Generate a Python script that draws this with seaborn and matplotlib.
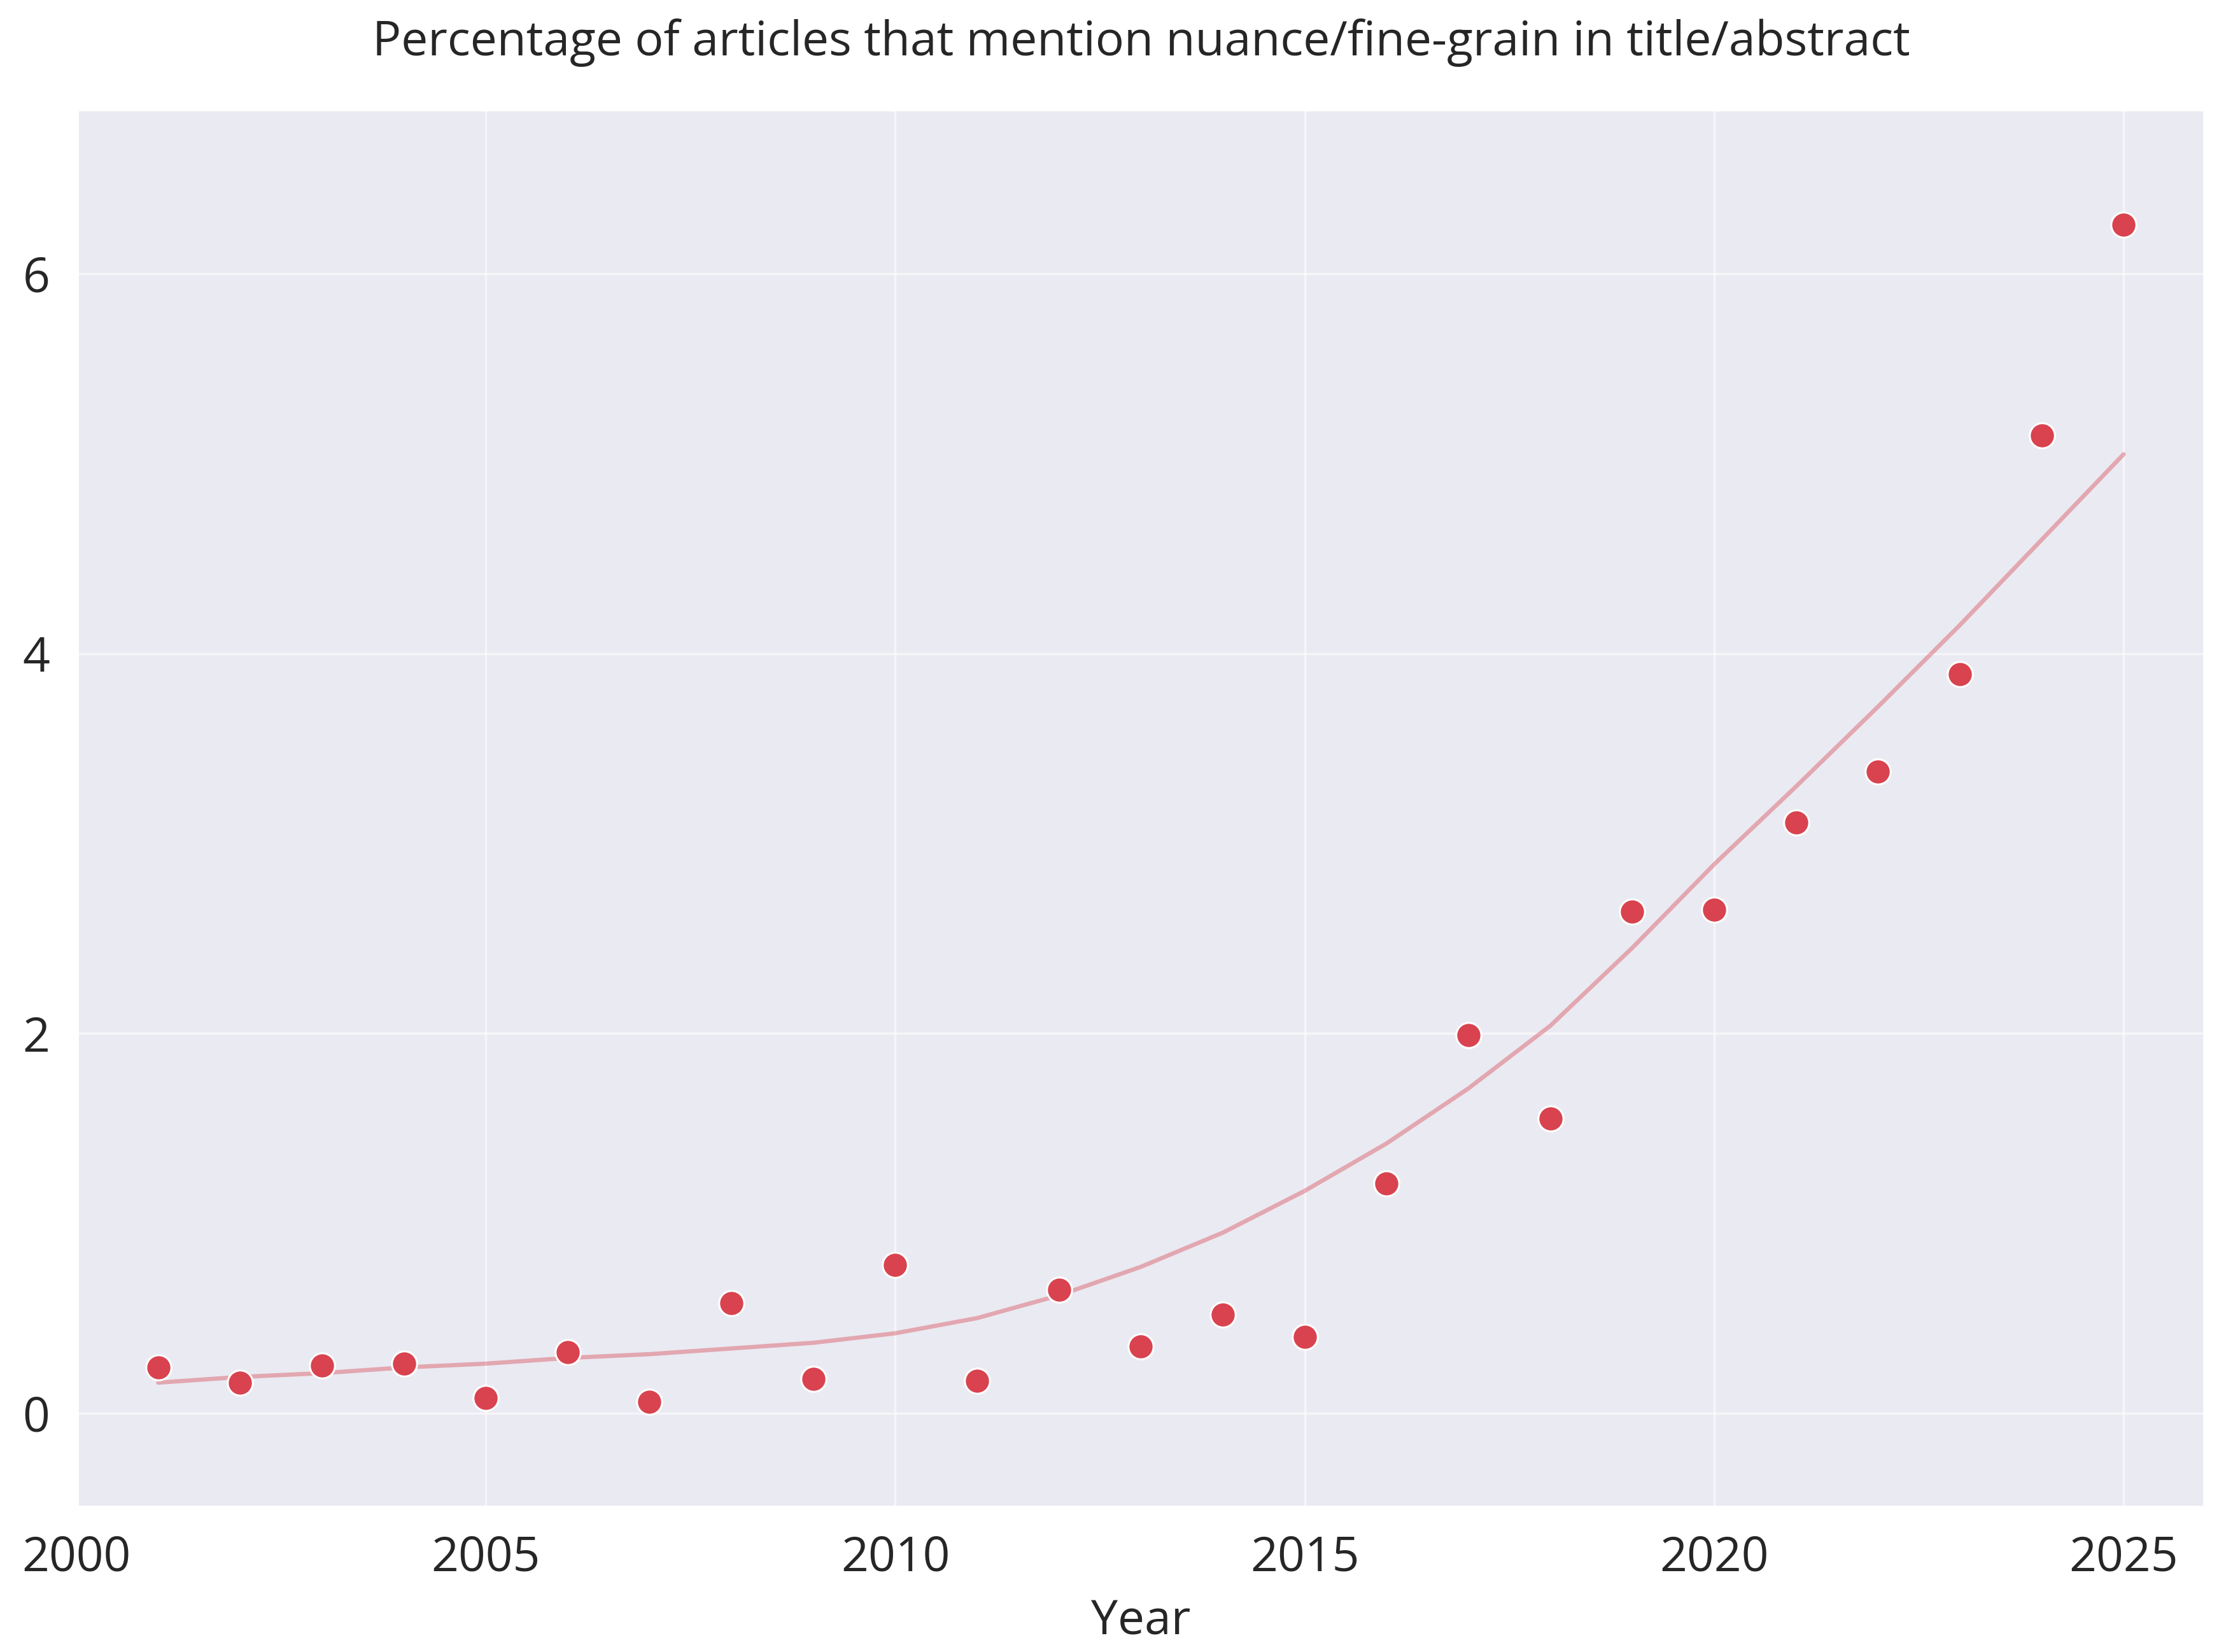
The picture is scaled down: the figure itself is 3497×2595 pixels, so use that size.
import matplotlib
matplotlib.use("Agg")
import matplotlib.pyplot as plt
import seaborn as sns
import pandas as pd

# Share of articles mentioning nuance / fine-grain, per year (%)
years = list(range(2001, 2026))
share = [0.24, 0.16, 0.25, 0.26, 0.08, 0.32, 0.06, 0.58, 0.18, 0.78,
         0.17, 0.65, 0.35, 0.52, 0.40, 1.21, 1.99, 1.55, 2.64, 2.65,
         3.11, 3.38, 3.89, 5.15, 6.26]
# smoothed trend
trend = [0.16, 0.19, 0.21, 0.24, 0.26, 0.29, 0.31, 0.34, 0.37, 0.42,
         0.50, 0.62, 0.77, 0.95, 1.17, 1.42, 1.71, 2.04, 2.45, 2.89,
         3.30, 3.72, 4.15, 4.60, 5.05]

title = "Percentage of articles that mention nuance/fine-grain in title/abstract"
point_color = "#d8434f"

df = pd.DataFrame({"Year": years, "share": share, "trend": trend})

sns.set_theme(style="darkgrid", context="talk")
plt.rcParams["font.family"] = ["Open Sans", "DejaVu Sans"]

fig, ax = plt.subplots(figsize=(3497 / 300, 2595 / 300), dpi=300)
fig.subplots_adjust(left=0.0343, right=0.9908, top=0.9342, bottom=0.0872)

sns.lineplot(data=df, x="Year", y="trend", color=point_color, alpha=0.4,
             linewidth=1.6, ax=ax)
sns.scatterplot(data=df, x="Year", y="share", color=point_color, s=90,
                edgecolor="white", linewidth=0.75, zorder=3, ax=ax)

ax.set_xlim(2000, 2026)
ax.set_ylim(-0.5, 6.87)
ax.set_xticks([2000, 2005, 2010, 2015, 2020, 2025])
ax.set_yticks([0, 2, 4, 6])
ax.tick_params(axis="both", labelsize=18, length=0, pad=10)
ax.grid(True, color="white", alpha=0.6, linewidth=0.8)
ax.set_ylabel("")
ax.set_xlabel("Year", labelpad=6)
ax.set_title(title, pad=20)

fig.savefig("out.png", dpi=300)
